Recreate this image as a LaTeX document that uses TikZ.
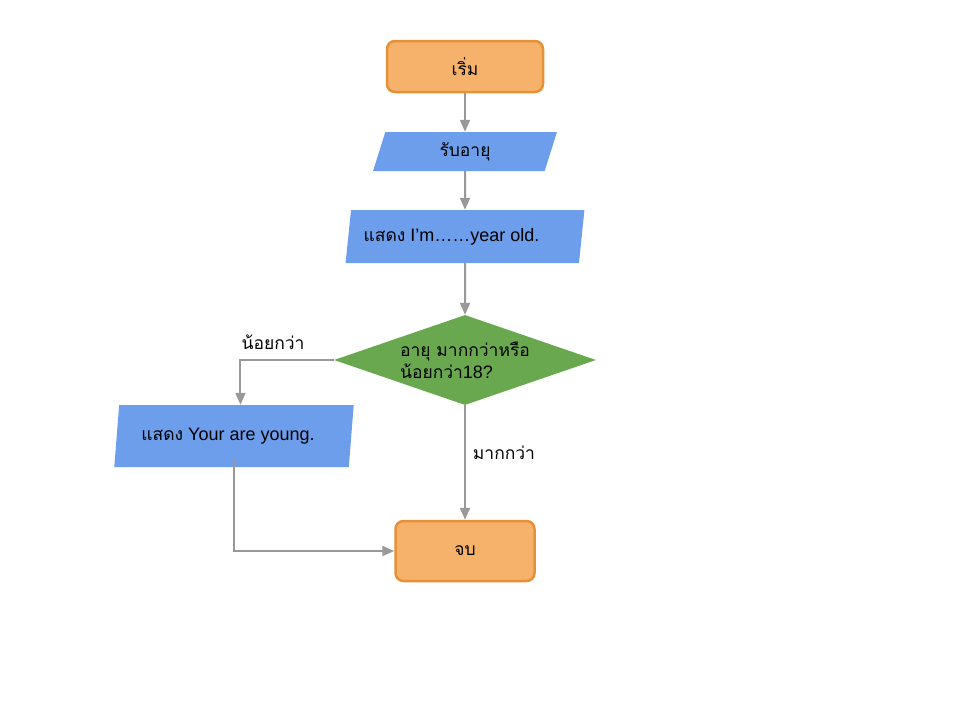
\documentclass[tikz,border=0pt]{standalone}
\usepackage{fontspec}
\setmainfont{Liberation Sans}
\newfontfamily\thaifont[Script=Thai,Scale=0.97]{Loma}
\usepackage{tikz}
\usetikzlibrary{shapes.geometric}
\usetikzlibrary{arrows.meta}

\definecolor{termfill}{HTML}{F6B26B}
\definecolor{termline}{HTML}{E69138}
\definecolor{iofill}{HTML}{6D9EEB}
\definecolor{decfill}{HTML}{6AA84F}
\definecolor{flowline}{HTML}{999999}

\tikzset{
    terminal/.style={draw=termline, fill=termfill, line width=2.5pt, rounded corners=8pt},
    inout/.style={trapezium, trapezium left angle=78, trapezium right angle=102, trapezium stretches=true, fill=iofill, inner sep=0pt},
    decision/.style={diamond, shape aspect=2.91, fill=decfill, inner sep=0pt, align=left},
    flow/.style={draw=flowline, line width=2pt, -{Triangle[length=12pt,width=10pt]}},
}

\begin{document}
\begin{tikzpicture}[x=1pt, y=-1pt, font=\fontsize{18}{22}\selectfont]
        \useasboundingbox (0,0) rectangle (960,720);
        \node[terminal, minimum width=156pt, minimum height=51pt] (start) at (465,66.5) {\thaifont เริ่ม};
        \node[inout, minimum width=185pt, minimum height=39pt] (age) at (465,151.5) {\thaifont รับอายุ};
        \node[inout, minimum width=239pt, minimum height=53pt] (show) at (465,236.5) {\hspace*{-27pt}{\thaifont แสดง} I’m……year old.};
        \node[decision, minimum width=262pt, minimum height=90pt] (check) at (465,360) {{\thaifont อายุ มากกว่าหรือ}\\{\thaifont น้อยกว่า}18?};
        \node[inout, minimum width=240pt, minimum height=62pt] (young) at (234,436) {\hspace*{-12pt}{\thaifont แสดง} Your are young.};
        \node[terminal, minimum width=139pt, minimum height=60pt] (stop) at (465,551) {\thaifont จบ};
        \node (less) at (273,342) {\thaifont น้อยกว่า};
        \node (more) at (504,453) {\thaifont มากกว่า};
        \draw[flow] (start) -- (age);
        \draw[flow] (age) -- (show);
        \draw[flow] (show) -- (check);
        \draw[flow] (check.west) -| ([xshift=4pt]young.top side);
        \draw[flow] (check.south) -- (stop.north);
        \draw[flow] ([yshift=7pt]young.south) |- (stop.west);
    \end{tikzpicture}
\end{document}
